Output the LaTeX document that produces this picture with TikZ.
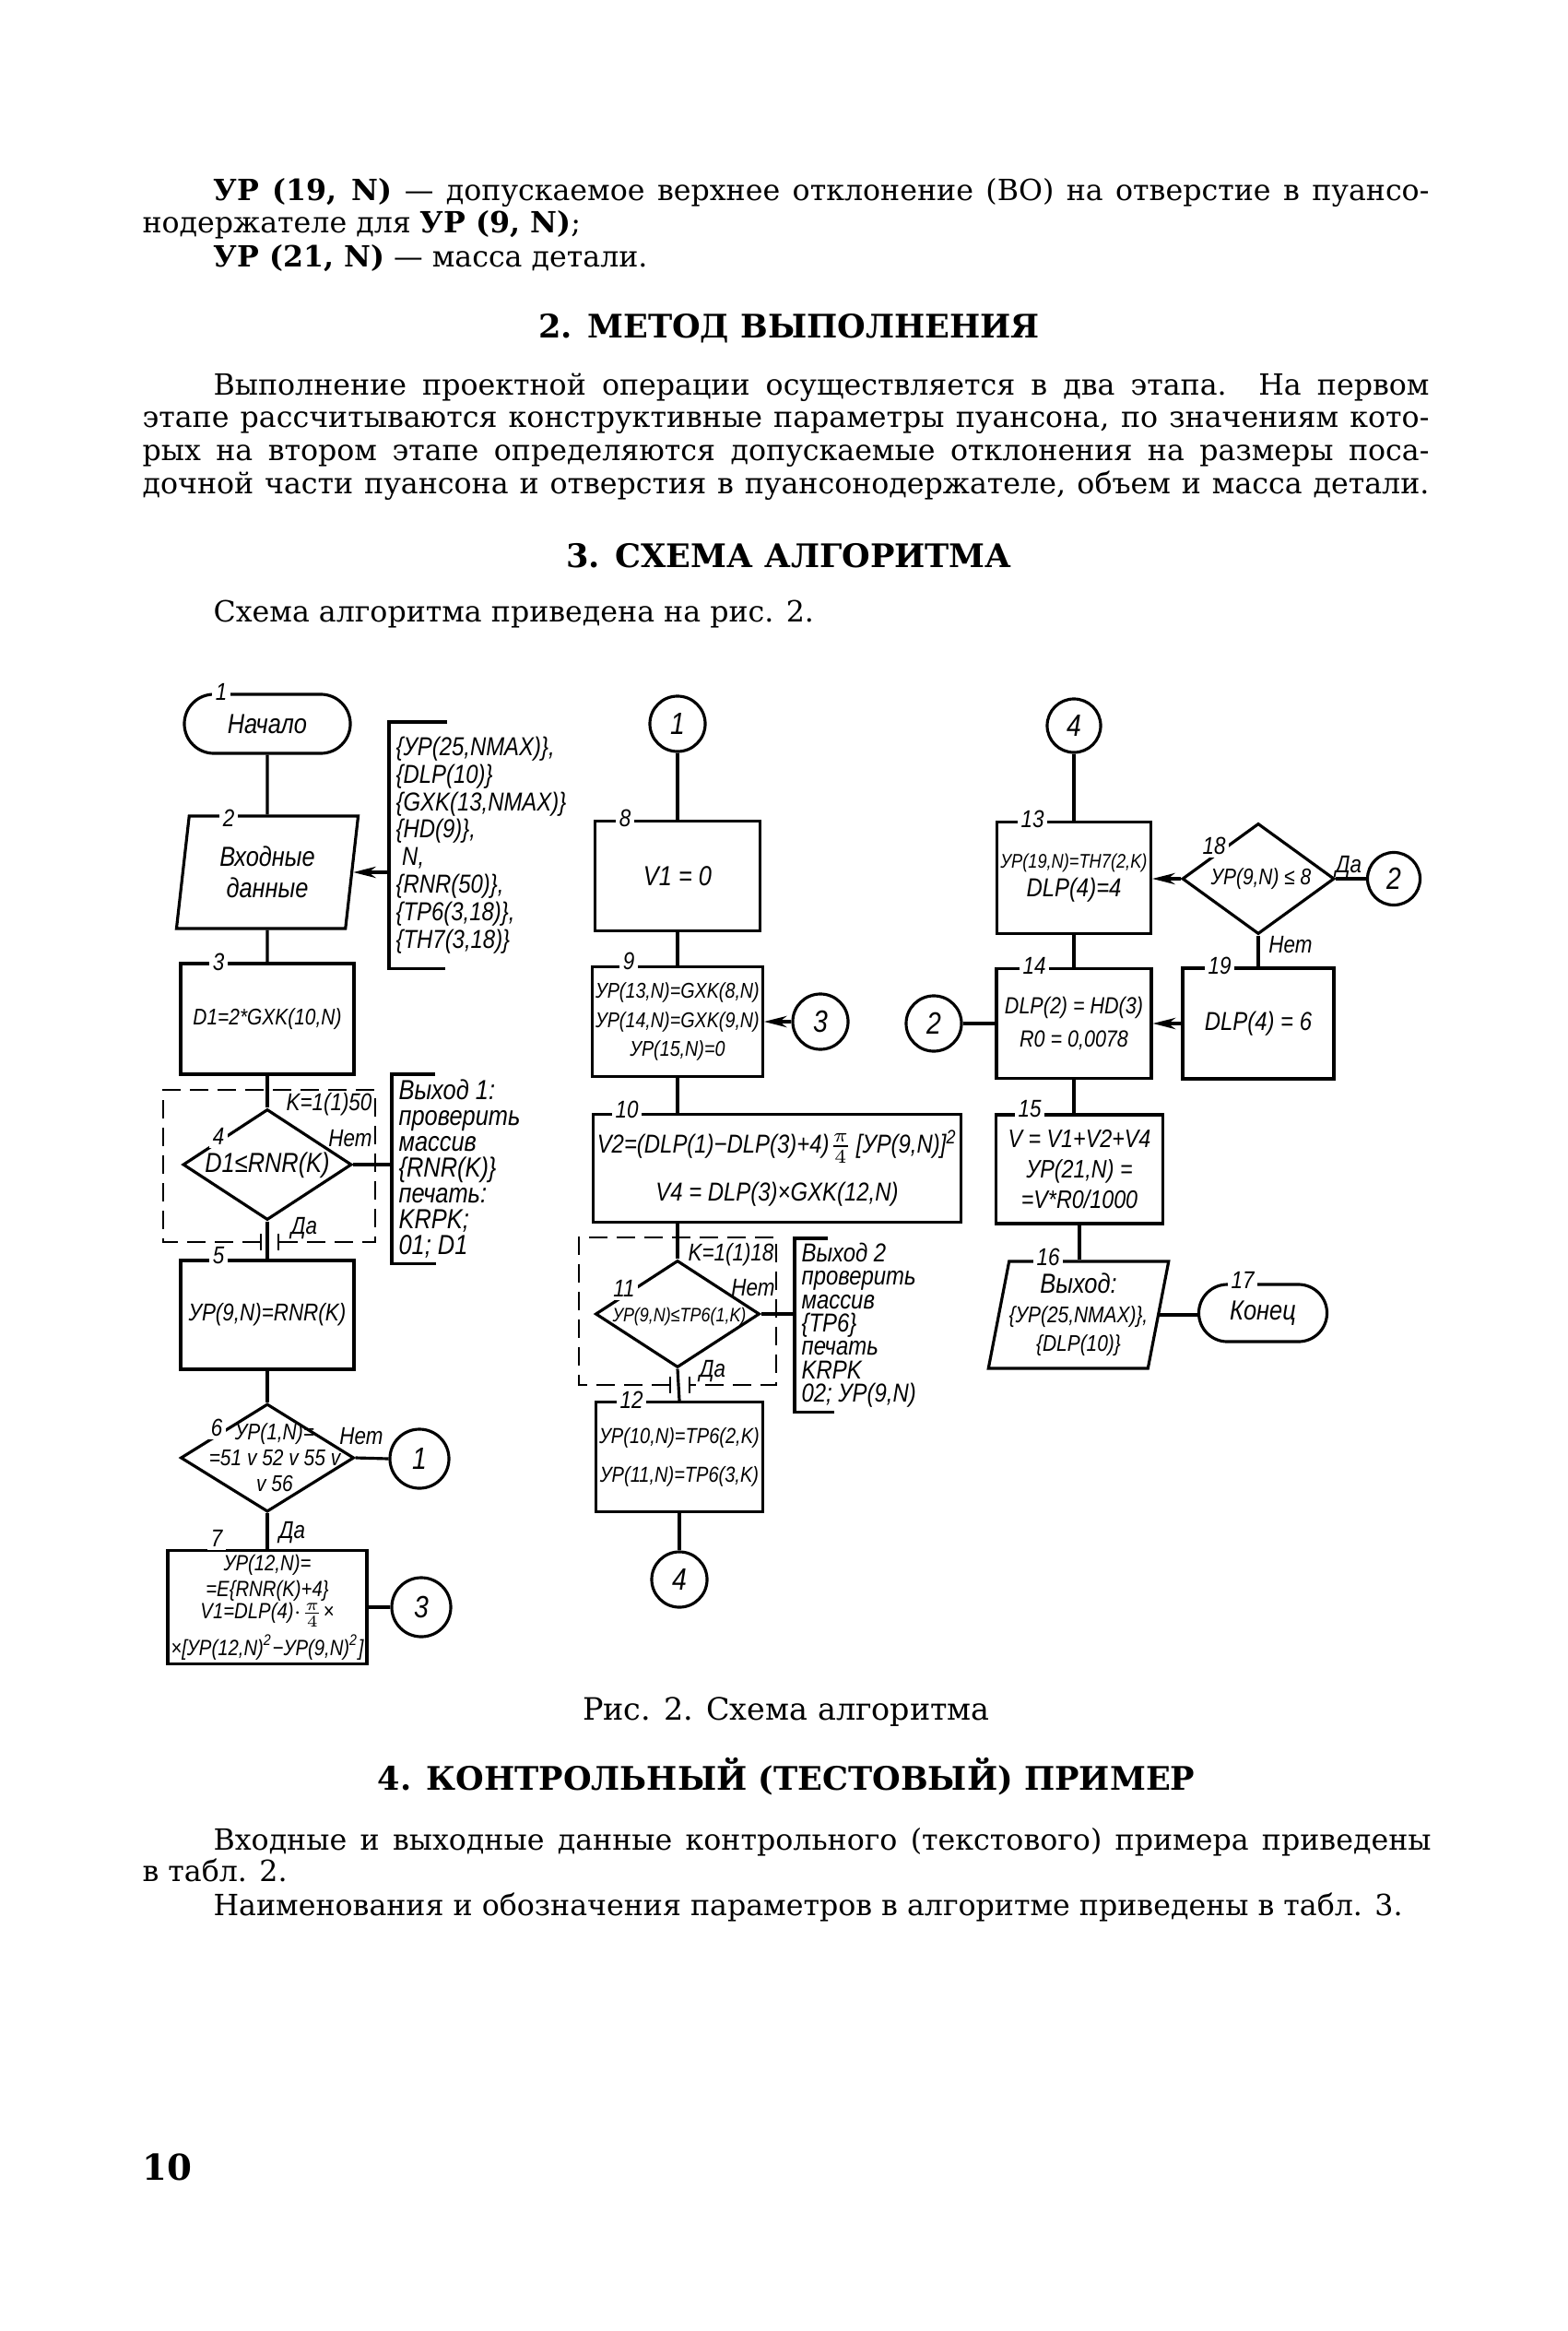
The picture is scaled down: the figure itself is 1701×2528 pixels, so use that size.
\documentclass[tikz,border=0pt]{standalone}
\usepackage{fontspec}
\setmainfont{DejaVu Serif}
\newfontfamily\chartfont[FakeStretch=0.85]{Liberation Sans}
\usetikzlibrary{shapes.geometric,shapes.misc,arrows.meta}
\begin{document}
\begin{tikzpicture}[
x=0.01cm, y=-0.01cm,
line width=0.9pt,
every node/.style={inner sep=1pt},
fs/.style 2 args={font=\chartfont\itshape\fontsize{#1}{#2}\selectfont},
proc/.style={draw, rectangle, align=center, fs={7}{8.5}},
term/.style={draw, rounded rectangle, fs={8.5}{10}},
io/.style={draw, trapezium, trapezium left angle=76, trapezium right angle=104,
  trapezium stretches body, align=center, inner sep=0pt},
decision/.style={draw, diamond, inner sep=0pt},
dtext/.style={align=center, inner sep=0pt},
conn/.style={draw, circle, fs={9.5}{10}},
numlbl/.style={fill=white, inner sep=1pt, fs={7.5}{8}},
elbl/.style={fs={7.5}{8}},
annot/.style={align=left, anchor=north west, inner xsep=0.06cm},
loopline/.style={line width=0.6pt, dash pattern=on 0.2cm off 0.1cm},
arr/.style={-{Stealth[length=7pt,width=3.5pt]}},
body/.style={anchor=base west, inner sep=0pt, font=\fontsize{9}{11}\selectfont},
head/.style={anchor=base, inner sep=0pt, font=\bfseries\fontsize{10}{12}\selectfont}
]
\fill[white] (0,0) rectangle (1701,2528);
\useasboundingbox (0,0) rectangle (1701,2528);

\node[body] (t1) at (230,218) {\makebox[13.18cm][s]{\textbf{УР (19, N)} — допускаемое верхнее отклонение (ВО) на отверстие в пуансо-}};
\node[body] (t2) at (153,253) {нодержателе для \textbf{УР (9, N)};};
\node[body] (t3) at (230,290) {\textbf{УР (21, N)} — масса детали.};
\node[head] (h2) at (856,367) {2. МЕТОД ВЫПОЛНЕНИЯ};
\node[body] (p1) at (230,429) {\makebox[13.18cm][s]{Выполнение проектной операции осуществляется в два этапа. На первом}};
\node[body] (p2) at (153,464) {\makebox[13.95cm][s]{этапе рассчитываются конструктивные параметры пуансона, по значениям кото-}};
\node[body] (p3) at (153,500) {\makebox[13.95cm][s]{рых на втором этапе определяются допускаемые отклонения на размеры поса-}};
\node[body] (p4) at (153,535) {\makebox[13.95cm][s]{дочной части пуансона и отверстия в пуансонодержателе, объем и масса детали.}};
\node[head] (h3) at (856,616) {3. СХЕМА АЛГОРИТМА};
\node[body] (s1) at (230,674) {Схема алгоритма приведена на рис. 2.};

\node[term, minimum width=1.87cm, minimum height=0.64cm] (start) at (290,785) {Начало};
\node[io, minimum width=1.97cm, minimum height=1.22cm, fs={8.5}{9.5}] (in2) at (290,946) {Входные\\данные};
\node[proc, minimum width=1.88cm, minimum height=1.2cm] (b3) at (290,1105) {D1=2*GXK(10,N)};
\node[decision, minimum width=1.83cm, minimum height=1.2cm] (d4) at (290,1263) {};
\node[dtext, fs={8.5}{9}] (d4t) at (290,1264) {D1≤RNR(K)};
\node[proc, minimum width=1.88cm, minimum height=1.18cm, fs={7.5}{8}] (b5) at (290,1426) {УР(9,N)=RNR(K)};
\node[decision, minimum width=1.88cm, minimum height=1.17cm] (d6) at (290,1581) {};
\node[dtext, fs={7}{8}] (d6t) at (298,1581) {УР(1,N)=\\=51 v 52 v 55 v\\v 56};
\node[proc, minimum width=1.9cm, minimum height=1.23cm, fs={6.8}{8}] (b7) at (290,1743)
  {УР(12,N)=\\=E\{RNR(K)+4\}\\[-1pt]V1=DLP(4)$\cdot\frac{\pi}{4}$×\\[1.5pt]×[УР(12,N)\textsuperscript{2}−УР(9,N)\textsuperscript{2}]};
\node[conn, minimum size=0.64cm] (c1a) at (455,1582) {1};
\node[conn, minimum size=0.64cm] (c3a) at (457,1743) {3};
\node[annot, minimum height=2.64cm, fs={8}{8.5}] (ann1) at (422,783)
  {\{УР(25,NMAX)\},\\\{DLP(10)\}\\\{GXK(13,NMAX)\}\\\{HD(9)\},\\\ N,\\\{RNR(50)\},\\\{TP6(3,18)\},\\\{TH7(3,18)\}};
\node[annot, minimum height=2.02cm, fs={8.5}{8}] (ann2) at (425,1165)
  {Выход 1:\\проверить\\массив\\\{RNR(K)\}\\печать:\\KRPK;\\01; D1};

\node[conn, minimum size=0.6cm] (c1b) at (735,785) {1};
\node[proc, minimum width=1.79cm, minimum height=1.19cm, fs={8.5}{9}] (b8) at (735,950) {V1 = 0};
\node[proc, minimum width=1.79cm, minimum height=1.19cm, fs={6.6}{9}] (b9) at (735,1108)
  {УР(13,N)=GXK(8,N)\\УР(14,N)=GXK(9,N)\\УР(15,N)=0};
\node[conn, minimum size=0.6cm] (c3b) at (890,1108) {3};
\node[proc, minimum width=3.99cm, minimum height=1.17cm, fs={8}{12}] (b10) at (843,1267)
  {V2=(DLP(1)−DLP(3)+4)$\frac{\pi}{4}$\,[УР(9,N)]\textsuperscript{2}\\[3pt]V4 = DLP(3)×GXK(12,N)};
\node[decision, minimum width=1.78cm, minimum height=1.16cm] (d11) at (735,1425) {};
\node[dtext, fs={6}{7}] (d11t) at (737,1428) {УР(9,N)≤TP6(1,K)};
\node[proc, minimum width=1.8cm, minimum height=1.19cm, fs={6.7}{12}] (b12) at (737,1580)
  {УР(10,N)=TP6(2,K)\\УР(11,N)=TP6(3,K)};
\node[conn, minimum size=0.6cm] (c4a) at (737,1713) {4};
\node[annot, minimum height=1.77cm, fs={8}{7.2}] (ann3) at (862,1343)
  {Выход 2\\проверить\\массив\\\{TP6\}\\печать\\KRPK\\02; УР(9,N)};

\node[conn, minimum size=0.58cm] (c4b) at (1165,787) {4};
\node[proc, minimum width=1.67cm, minimum height=1.21cm, fs={6.1}{9}] (b13) at (1165,952)
  {УР(19,N)=TH7(2,K)\\{\fontsize{8}{9}\selectfont DLP(4)=4}};
\node[decision, minimum width=1.65cm, minimum height=1.2cm] (d18) at (1365,953) {};
\node[dtext, fs={7}{8}] (d18t) at (1368,953) {УР(9,N) ≤ 8};
\node[conn, minimum size=0.57cm] (c2a) at (1512,953) {2};
\node[proc, minimum width=1.68cm, minimum height=1.19cm, fs={7.2}{10}] (b14) at (1165,1110)
  {DLP(2) = HD(3)\\R0 = 0,0078};
\node[proc, minimum width=1.64cm, minimum height=1.2cm, fs={8}{9}] (b19) at (1365,1110) {DLP(4) = 6};
\node[conn, minimum size=0.6cm] (c2b) at (1013,1110) {2};
\node[proc, minimum width=1.81cm, minimum height=1.18cm, fs={7.8}{9.4}] (b15) at (1171,1268)
  {V = V1+V2+V4\\УР(21,N) =\\=V*R0/1000};
\node[io, minimum width=1.89cm, minimum height=1.16cm, fs={7}{9}] (io16) at (1170,1426)
  {{\fontsize{8.5}{9}\selectfont Выход:}\\\{УР(25,NMAX)\},\\\{DLP(10)\}};
\node[term, minimum width=1.46cm, minimum height=0.62cm] (t17) at (1370,1424) {Конец};

\draw (start.south) -- (in2.north);
\draw (in2.south) -- (b3.north);
\draw (b3.south) -- (d4.north);
\draw (d4.south) -- (b5.north);
\draw (b5.south) -- (d6.north);
\draw (d6.south) -- (b7.north);
\draw (d6.east) -- (c1a.west);
\draw (b7.east) -- (c3a.west);
\draw (d4.east) -- (d4.east -| ann2.west);
\draw[arr] (ann1.west |- in2.east) -- (in2.east);
\draw (c1b.south) -- (b8.north);
\draw (b8.south) -- (b9.north);
\draw[arr] (c3b.west) -- (b9.east);
\draw (b9.south) -- (b9.south |- b10.north);
\draw (b9.south |- b10.south) -- (d11.north);
\draw (d11.south) -- (b12.north);
\draw (d11.east) -- (d11.east -| ann3.west);
\draw (b12.south) -- (c4a.north);
\draw (c4b.south) -- (b13.north);
\draw[arr] (d18.west) -- (d18.west -| b13.east);
\draw (d18.east) -- (c2a.west);
\draw (d18.south) -- (d18.south |- b19.north);
\draw (b13.south) -- (b14.north);
\draw[arr] (b19.west) -- (b19.west -| b14.east);
\draw (c2b.east) -- (b14.west);
\draw (b14.south) -- (b14.south |- b15.north);
\draw (b15.south) -- (b15.south |- io16.north);
\draw (io16.east) -- (io16.east -| t17.west);

\draw ([xshift=0.63cm]ann1.north west) -- (ann1.north west) -- (ann1.south west) -- ([xshift=0.61cm]ann1.south west);
\draw ([xshift=0.47cm]ann2.north west) -- (ann2.north west) -- (ann2.south west) -- ([xshift=0.48cm]ann2.south west);
\draw ([xshift=0.36cm]ann3.north west) -- (ann3.north west) -- (ann3.south west) -- ([xshift=0.43cm]ann3.south west);

\draw[loopline] (283,1347) -- (177,1347) -- (177,1182) -- (407,1182) -- (407,1347) -- (302,1347);
\draw[line width=0.6pt] (283,1338) -- (283,1356) (302,1338) -- (302,1356);
\draw[loopline] (727,1502) -- (628,1502) -- (628,1342) -- (842,1342) -- (842,1502) -- (748,1502);
\draw[line width=0.6pt] (727,1493) -- (727,1511) (748,1493) -- (748,1511);

\foreach \n/\x/\y in {1/240/750, 2/248/887, 3/237/1043, 4/237/1232, 5/237/1362, 6/235/1548,
  7/235/1668, 8/678/887, 9/682/1042, 10/680/1203, 11/677/1397, 12/685/1518, 13/1120/888,
  14/1122/1047, 15/1117/1203, 16/1137/1363, 17/1348/1388, 18/1317/917, 19/1323/1047}
  \node[numlbl] (n\n) at (\x,\y) {\n};

\node[elbl] (l4loop) at (357,1198) {K=1(1)50};
\node[elbl] (l4no) at (380,1235) {Нет};
\node[elbl] (l4yes) at (330,1332) {Да};
\node[elbl] (l6no) at (392,1558) {Нет};
\node[elbl] (l6yes) at (317,1662) {Да};
\node[elbl] (l11loop) at (793,1361) {K=1(1)18};
\node[elbl] (l11no) at (817,1397) {Нет};
\node[elbl] (l11yes) at (773,1487) {Да};
\node[elbl] (l18yes) at (1463,940) {Да};
\node[elbl] (l18no) at (1400,1025) {Нет};

\node[body, anchor=base, font=\fontsize{9.5}{11}\selectfont] (cap) at (853,1865) {Рис. 2. Схема алгоритма};
\node[head] (h4) at (853,1941) {4. КОНТРОЛЬНЫЙ (ТЕСТОВЫЙ) ПРИМЕР};
\node[body] (q1) at (230,2006) {\makebox[13.2cm][s]{Входные и выходные данные контрольного (текстового) примера приведены}};
\node[body] (q2) at (153,2040) {в табл. 2.};
\node[body] (q3) at (230,2077) {Наименования и обозначения параметров в алгоритме приведены в табл. 3.};
\node[body, font=\bfseries\fontsize{11}{12}\selectfont] (pg) at (153,2364) {10};
\end{tikzpicture}
\end{document}
